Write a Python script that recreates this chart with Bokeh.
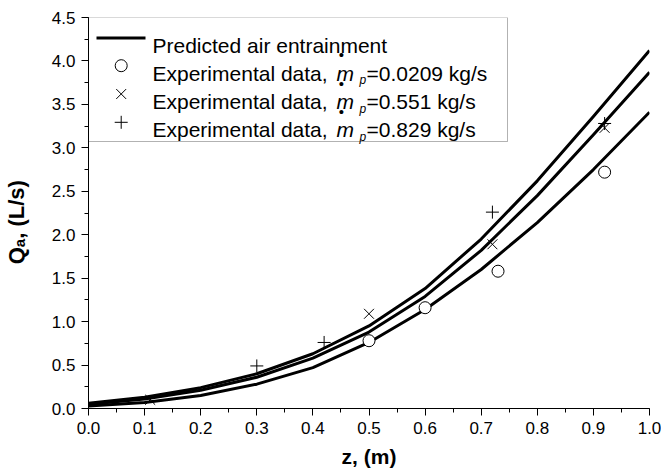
from bokeh.plotting import figure
from bokeh.models import Label, SingleIntervalTicker, NumeralTickFormatter, Range1d, BoxAnnotation
from bokeh.embed import file_html
from bokeh.resources import INLINE

# ---- data ----
z_pred = [0.0, 0.1, 0.2, 0.3, 0.4, 0.5, 0.6, 0.7, 0.8, 0.9, 1.0]
q_pred_0209 = [0.03, 0.07, 0.15, 0.28, 0.47, 0.76, 1.14, 1.60, 2.14, 2.75, 3.41]
q_pred_0551 = [0.05, 0.11, 0.21, 0.36, 0.58, 0.88, 1.29, 1.82, 2.45, 3.15, 3.87]
q_pred_0829 = [0.06, 0.13, 0.24, 0.40, 0.63, 0.95, 1.38, 1.95, 2.62, 3.36, 4.12]

z_exp_0209 = [0.50, 0.60, 0.73, 0.92]
q_exp_0209 = [0.78, 1.16, 1.58, 2.72]
z_exp_0551 = [0.11, 0.50, 0.72, 0.92]
q_exp_0551 = [0.10, 1.09, 1.89, 3.23]
z_exp_0829 = [0.30, 0.42, 0.72, 0.92]
q_exp_0829 = [0.49, 0.76, 2.26, 3.28]

legend_line = "Predicted air entrainment"
legend_prefix = "Experimental data, "
legend_rates = ["=0.0209 kg/s", "=0.551 kg/s", "=0.829 kg/s"]

x_title = "z, (m)"
y_title = "Q\u2090, (L/s)"

FONT = "Liberation Sans"

# ---- figure ----
X0, X1, Y0, Y1 = 0.0, 1.0, 0.0, 4.5
p = figure(width=661, height=475, x_range=Range1d(X0, X1), y_range=Range1d(Y0, Y1),
           output_backend="svg", toolbar_location=None,
           min_border_left=88, min_border_right=12, min_border_top=17, min_border_bottom=67)
p.outline_line_color = None
p.xgrid.visible = False
p.ygrid.visible = False
p.background_fill_color = "white"
p.border_fill_color = "white"

FRAME_L, FRAME_T, FRAME_W, FRAME_H = 88.0, 17.0, 561.0, 391.0  # picture pixels


def dx(px):
    return X0 + (px - FRAME_L) / FRAME_W * (X1 - X0)


def dy(py):
    return Y0 + (FRAME_T + FRAME_H - py) / FRAME_H * (Y1 - Y0)


for ax, interval in ((p.xaxis[0], 0.1), (p.yaxis[0], 0.5)):
    ax.ticker = SingleIntervalTicker(interval=interval, num_minor_ticks=2)
    ax.formatter = NumeralTickFormatter(format="0.0")
    ax.axis_line_color = "black"
    ax.axis_line_width = 1
    ax.major_tick_line_color = "black"
    ax.minor_tick_line_color = "black"
    ax.major_tick_in = 0
    ax.major_tick_out = 7
    ax.minor_tick_in = 0
    ax.minor_tick_out = 4
    ax.major_label_text_font = FONT
    ax.major_label_text_font_size = "17px"
    ax.major_label_text_color = "black"
    ax.major_label_standoff = 6
    ax.axis_label_text_font = FONT
    ax.axis_label_text_font_style = "bold"
    ax.axis_label_text_color = "black"

p.xaxis[0].axis_label = x_title
p.xaxis[0].axis_label_text_font_size = "21px"
p.xaxis[0].axis_label_standoff = 8

p.yaxis[0].axis_label = y_title + "\u00a0" * 3
p.yaxis[0].axis_label_text_font_size = "22px"
p.yaxis[0].axis_label_standoff = 20

# ---- predicted curves ----
for q in (q_pred_0209, q_pred_0551, q_pred_0829):
    p.line(z_pred, q, line_color="black", line_width=3, line_join="round")

# ---- experimental points ----
p.scatter(z_exp_0551, q_exp_0551, marker="x", size=14, line_color="black", line_width=1)
p.scatter(z_exp_0829, q_exp_0829, marker="cross", size=13, line_color="black", line_width=1)
p.scatter(z_exp_0209, q_exp_0209, marker="circle", size=12, line_color="black",
          fill_color="white", line_width=1)

# ---- legend (drawn by hand, inside the frame) ----
p.add_layout(BoxAnnotation(left=dx(88), right=dx(507), top=dy(17), bottom=dy(141),
                           fill_alpha=0, line_color="black", line_width=1))
p.segment(x0=[dx(96)], y0=[dy(37.5)], x1=[dx(145)], y1=[dy(37.5)], line_color="black", line_width=3)

baselines = [45.0, 72.7, 101.0, 129.3]
marker_kinds = ["circle", "x", "cross"]
marker_sizes = [12, 14, 13]
p.add_layout(Label(x=dx(152), y=dy(baselines[0]), text=legend_line, text_font=FONT,
                   text_font_size="21px", text_color="black", text_baseline="alphabetic"))
for i, rate in enumerate(legend_rates):
    b = baselines[i + 1]
    p.scatter([dx(120.7)], [dy(b - 7.5)], marker=marker_kinds[i], size=marker_sizes[i],
              line_color="black", fill_color="white", line_width=1)
    p.add_layout(Label(x=dx(152), y=dy(b), text=legend_prefix, text_font=FONT,
                       text_font_size="21px", text_color="black", text_baseline="alphabetic"))
    p.add_layout(Label(x=dx(336), y=dy(b), text="m", text_font=FONT, text_font_style="italic",
                       text_font_size="21px", text_color="black", text_baseline="alphabetic"))
    p.add_layout(Label(x=dx(341), y=dy(b - 18.5), text="\u2022", text_font=FONT,
                       text_font_size="15px", text_color="black", text_baseline="alphabetic",
                       text_align="center"))
    p.add_layout(Label(x=dx(359), y=dy(b + 7), text="p", text_font=FONT, text_font_style="italic",
                       text_font_size="12px", text_color="black", text_baseline="alphabetic"))
    p.add_layout(Label(x=dx(366), y=dy(b), text=rate, text_font=FONT,
                       text_font_size="21px", text_color="black", text_baseline="alphabetic"))

open("out.html", "w").write(file_html(p, INLINE))
